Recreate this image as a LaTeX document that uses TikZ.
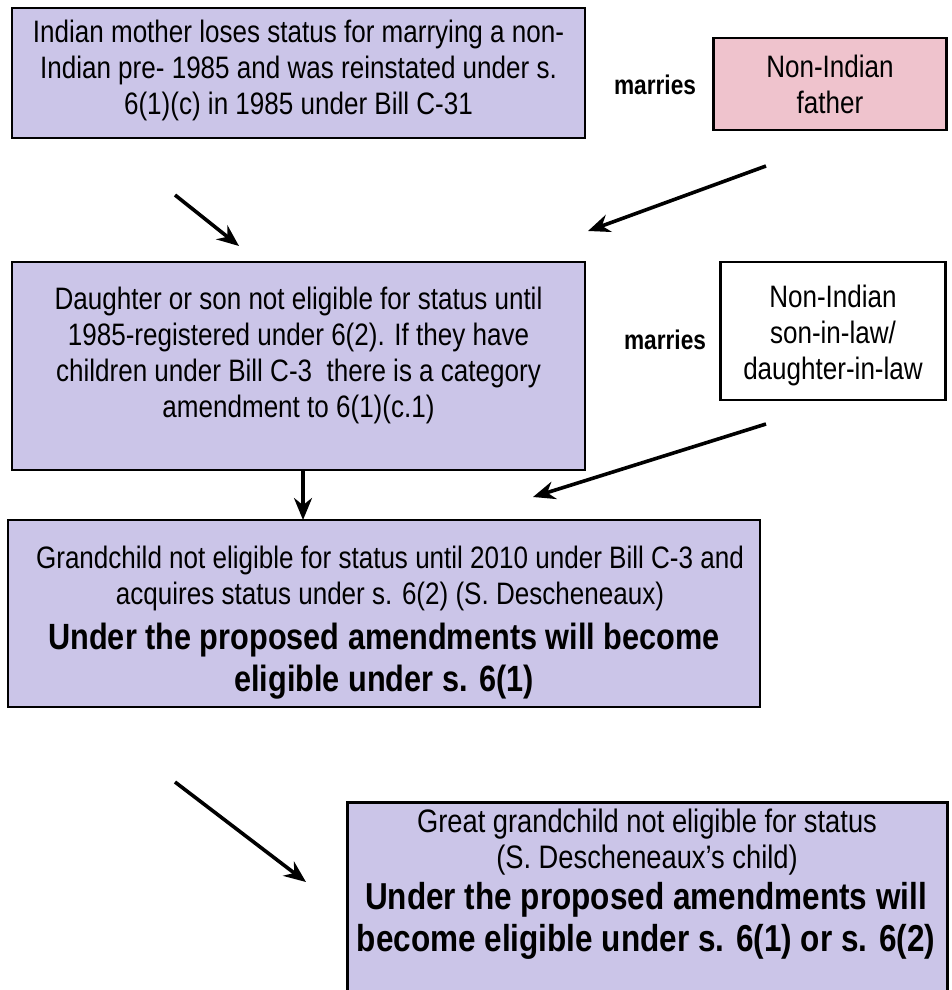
\documentclass[tikz,border=0pt]{standalone}
\usepackage{fontspec}
\setmainfont[FakeStretch=0.84]{Liberation Sans}
\usetikzlibrary{arrows.meta}
\definecolor{lav}{HTML}{CBC5E8}
\definecolor{pinkbox}{HTML}{EFC3CD}
\tikzset{
  boxstyle/.style={draw=black, line width=2.6pt, inner sep=0pt},
  lavbox/.style={boxstyle, fill=lav},
  txt/.style={align=center, font=\fontsize{31}{36}\selectfont, inner sep=0pt},
  lbl/.style={font=\fontsize{27}{30}\selectfont\bfseries, inner sep=0pt},
  arr/.style={line width=3.6pt, -{Stealth[length=22pt,width=18pt]}}
}
\begin{document}
\begin{tikzpicture}[x=1pt,y=-1pt]
\useasboundingbox (0,0) rectangle (951,990);
% boxes
\node[lavbox, minimum width=573pt, minimum height=130pt] (mother) at (298.5,73) {};
\node[txt] (mothert) at (298.5,70) {Indian mother loses status for marrying a non-\\Indian pre- 1985 and was reinstated under s.\\6(1)(c) in 1985 under Bill C-31};
\node[lbl] (m1) at (655,85) {marries};
\node[boxstyle, fill=pinkbox, minimum width=233pt, minimum height=92pt] (father) at (830,84) {};
\node[txt] (fathert) at (father.center) {Non-Indian\\father};

\node[lavbox, minimum width=573pt, minimum height=208pt] (daughter) at (298.5,366) {};
\node[txt] (daughtert) at (298.5,355) {Daughter or son not eligible for status until\\1985-registered under 6(2). If they have\\children under Bill C-3\ \ there is a category\\amendment to 6(1)(c.1)};
\node[lbl] (m2) at (665,340) {marries};
\node[boxstyle, fill=white, minimum width=225pt, minimum height=138pt] (inlaw) at (833,331) {};
\node[txt] (inlawt) at (833,335) {Non-Indian\\son-in-law/\\daughter-in-law};

\node[lavbox, minimum width=752pt, minimum height=187pt] (grand) at (384,613.5) {};
\node[txt] (grandt1) at (390,578) {Grandchild not eligible for status until 2010 under Bill C-3 and\\acquires status under s. 6(2) (S. Descheneaux)};
\node[align=center, inner sep=0pt, font=\fontsize{36.5}{42}\selectfont\bfseries] (grandt2) at (384,661) {Under the proposed amendments will become\\eligible under s. 6(1)};

\node[lavbox, minimum width=600pt, minimum height=200pt, anchor=north west] (great) at (346,801) {};
\node[txt, font=\fontsize{32.5}{36}\selectfont] (greatt1) at (647,842) {Great grandchild not eligible for status\\(S. Descheneaux’s child)};
\node[align=center, inner sep=0pt, font=\fontsize{37.5}{42}\selectfont\bfseries] (greatt2) at (646,921) {Under the proposed amendments will\\become eligible under s. 6(1) or s. 6(2)};

% arrows
\coordinate (a1s) at (175,195); \coordinate (a1e) at (239,246);
\coordinate (a2s) at (766,166); \coordinate (a2e) at (588,231);
\coordinate (a3e) at (303,520);
\coordinate (a4s) at (766,424); \coordinate (a4e) at (533,497);
\coordinate (a5s) at (175,782); \coordinate (a5e) at (306,882);
\draw[arr] (a1s) -- (a1e);
\draw[arr] (a2s) -- (a2e);
\draw[arr] (daughter.south -| a3e) -- (a3e);
\draw[arr] (a4s) -- (a4e);
\draw[arr] (a5s) -- (a5e);
\end{tikzpicture}
\end{document}
